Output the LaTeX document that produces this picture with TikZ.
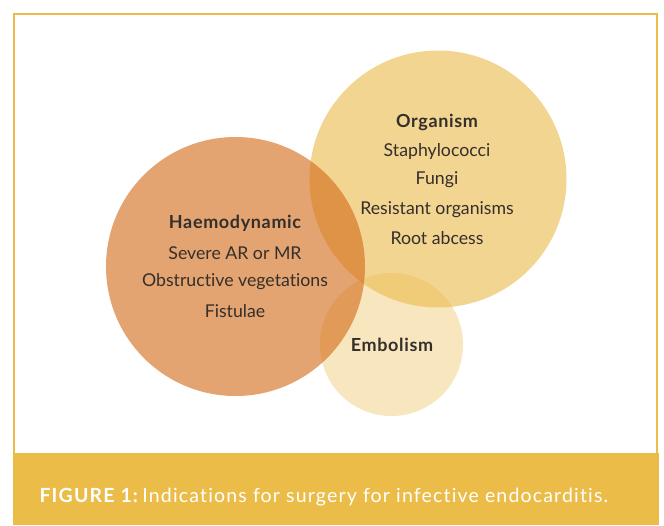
\documentclass[tikz,border=0pt]{standalone}
\usepackage{fontspec}
\setmainfont{Lato}[Ligatures={NoCommon,NoRare}]
\definecolor{gold}{RGB}{236,188,72}
\definecolor{goldc}{RGB}{235,185,74}
\definecolor{orng}{RGB}{210,104,20}
\definecolor{txt}{RGB}{52,47,42}
\begin{document}
\begin{tikzpicture}[x=1pt,y=-1pt,
  circ/.style={circle,inner sep=0pt,draw=none},
  head/.style={font=\fontsize{18}{20}\selectfont\bfseries\addfontfeatures{LetterSpace=3.5},text=txt},
  item/.style={font=\fontsize{17.7}{20}\selectfont,text=txt}]
\useasboundingbox (0,0) rectangle (664,525);
\fill[white] (0,0) rectangle (664,525);
% frame and caption band
\draw[gold,line width=2pt] (14,13.5) rectangle (657,454);
\fill[gold] (13,453) rectangle (658.5,525);
% circles
\node[circ,minimum size=143pt,fill=goldc,fill opacity=0.35] (emb) at (391.5,344.5) {};
\node[circ,minimum size=257pt,fill=goldc,fill opacity=0.6] (org) at (438,179) {};
\node[circ,minimum size=259pt,fill=orng,fill opacity=0.6] (hae) at (235.5,266.5) {};
% texts
\node[head] (orgt) at (437,122) {Organism};
\node[item] (o1) at (437,151) {Staphylococci};
\node[item] (o2) at (437,180) {Fungi};
\node[item] (o3) at (437,210) {Resistant organisms};
\node[item] (o4) at (437,238) {Root abcess};
\node[head] (haet) at (235,223) {Haemodynamic};
\node[item] (h1) at (235,253) {Severe AR or MR};
\node[item] (h2) at (235,282) {Obstructive vegetations};
\node[item] (h3) at (235,311) {Fistulae};
\node[head] (embt) at (392,345) {Embolism};
\node[anchor=west,text=white,font=\fontsize{19.5}{22}\selectfont\addfontfeatures{LetterSpace=6}] (cap) at (36,497)
  {\textbf{FIGURE 1:}\,Indications for surgery for infective endocarditis.};
\end{tikzpicture}
\end{document}
